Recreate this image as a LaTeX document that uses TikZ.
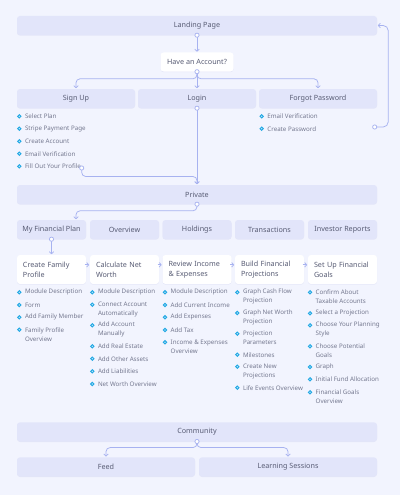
\documentclass[tikz,border=0pt]{standalone}
\usepackage{fontspec}
\setmainfont{Noto Sans}
\usetikzlibrary{arrows.meta,shadows}
\definecolor{bg}{HTML}{F2F4FE}
\definecolor{boxc}{HTML}{E2E5FA}
\definecolor{conncol}{HTML}{A7B2F0}
\definecolor{lab}{HTML}{585C74}
\definecolor{itc}{HTML}{74788F}
\definecolor{bulc}{HTML}{22A8E4}
\newcommand\itm[5]{%
  \node[itemtxt] (#1) at (#2+5.5,#4) {#5};
  \draw[bul] (#2,#3) circle[radius=1.6pt];}
\begin{document}
\begin{tikzpicture}[x=1pt,y=-1pt,
  box/.style={fill=boxc, rounded corners=3pt, inner sep=0pt, minimum height=19pt, text=lab,
    font=\fontsize{7.2}{9}\selectfont,
    drop shadow={shadow xshift=0pt, shadow yshift=-0.7pt, opacity=0.06, fill=blue!60!black}},
  wbox/.style={box, fill=white},
  tab/.style={box, minimum width=69pt},
  hdr/.style={wbox, minimum width=69pt, minimum height=29pt, text width=57pt, inner xsep=6pt,
    align=left, font=\fontsize{7.2}{10}\selectfont},
  itemtxt/.style={inner sep=0pt, anchor=west, align=left, text=itc, font=\fontsize{6.2}{9}\selectfont},
  bul/.style={draw=bulc, line width=1.0pt, fill=white},
  conn/.style={draw=conncol, line width=0.75pt, rounded corners=4pt},
  arr/.style={conn, -{Straight Barb[length=2pt,width=4.5pt]}, shorten >=0.6pt},
  dot/.style={circle, draw=conncol, line width=0.75pt, fill=white, inner sep=0pt, minimum size=4.2pt}
]
\fill[bg] (0,0) rectangle (400,495);
\useasboundingbox (0,0) rectangle (400,495);

% top part
\node[box, minimum width=360pt] (landing) at (197,25.5) {Landing Page};
\node[wbox, minimum width=73pt] (have) at (197,62) {Have an Account?};
\node[box, minimum width=118pt] (signup) at (76,98.5) {Sign Up};
\node[box, minimum width=118pt] (login) at (197,98.5) {Login};
\node[box, minimum width=118pt] (forgot) at (318,98.5) {Forgot Password};

\itm{su1}{19.3}{116.3}{116.3}{Select Plan}
\itm{su2}{19.3}{128.7}{128.7}{Stripe Payment Page}
\itm{su3}{19.3}{141.3}{141.3}{Create Account}
\itm{su4}{19.3}{153.7}{153.7}{Email Verification}
\itm{su5}{19.3}{166.3}{166.3}{Fill Out Your Profile}
\itm{fp1}{261.7}{116.3}{116.3}{Email Verification}
\itm{fp2}{261.7}{128.7}{128.7}{Create Password}

\node[box, minimum width=360pt] (private) at (197,194.5) {Private};

\node[tab] (mfp) at (51.5,229.5) {My Financial Plan};
\node[tab] (ovw) at (124.5,229.5) {Overview};
\node[tab] (hold) at (197,229.5) {Holdings};
\node[tab] (trans) at (269.5,229.5) {Transactions};
\node[tab] (inv) at (342.5,229.5) {Investor Reports};

\node[hdr] (h1) at (51.5,269.5) {Create Family\\Profile};
\node[hdr] (h2) at (124.5,269.5) {Calculate Net\\Worth};
\node[hdr] (h3) at (197,269.5) {Review Income\\\& Expenses};
\node[hdr] (h4) at (269.5,269.5) {Build Financial\\Projections};
\node[hdr] (h5) at (342.5,269.5) {Set Up Financial\\Goals};

% column 1
\itm{a1}{19.3}{292.3}{292.3}{Module Description}
\itm{a2}{19.3}{305}{305}{Form}
\itm{a3}{19.3}{317.3}{317.3}{Add Family Member}
\itm{a4}{19.3}{329.7}{334.2}{Family Profile\\Overview}
% column 2
\itm{b1}{92.3}{292.3}{292.3}{Module Description}
\itm{b2}{92.3}{304.7}{309.2}{Connect Account\\Automatically}
\itm{b3}{92.3}{325.3}{329.8}{Add Account\\Manually}
\itm{b4}{92.3}{346.3}{346.3}{Add Real Estate}
\itm{b5}{92.3}{358.7}{358.7}{Add Other Assets}
\itm{b6}{92.3}{371.3}{371.3}{Add Liabilities}
\itm{b7}{92.3}{384}{384}{Net Worth Overview}
% column 3
\itm{c1}{165}{292.3}{292.3}{Module Description}
\itm{c2}{165}{305}{305}{Add Current Income}
\itm{c3}{165}{317.3}{317.3}{Add Expenses}
\itm{c4}{165}{330}{330}{Add Tax}
\itm{c5}{165}{342.3}{346.8}{Income \& Expenses\\Overview}
% column 4
\itm{d1}{237.3}{292.3}{296.8}{Graph Cash Flow\\Projection}
\itm{d2}{237.3}{313}{317.5}{Graph Net Worth\\Projection}
\itm{d3}{237.3}{333.7}{338.2}{Projection\\Parameters}
\itm{d4}{237.3}{354.7}{354.7}{Milestones}
\itm{d5}{237.3}{366.7}{371.2}{Create New\\Projections}
\itm{d6}{237.3}{387.7}{387.7}{Life Events Overview}
% column 5
\itm{e1}{310}{292.3}{296.8}{Confirm About\\Taxable Accounts}
\itm{e2}{310}{313.3}{313.3}{Select a Projection}
\itm{e3}{310}{325.3}{329.8}{Choose Your Planning\\Style}
\itm{e4}{310}{346.3}{350.8}{Choose Potential\\Goals}
\itm{e5}{310}{367}{367}{Graph}
\itm{e6}{310}{379.3}{379.3}{Initial Fund Allocation}
\itm{e7}{310}{392.3}{396.8}{Financial Goals\\Overview}

\node[box, minimum width=360pt] (community) at (197,431.8) {Community};
\node[box, minimum width=178pt] (feed) at (106,466.8) {Feed};
\node[box, minimum width=178pt] (learn) at (288,466.8) {Learning Sessions};

% connectors
\coordinate (pc) at (81.7,168);
\coordinate (cp) at (374.7,127);
\coordinate (mfpt) at ([xshift=24.5pt]mfp.north);

\draw[arr] (landing.south) -- (have.north);
\draw[arr] (have.south) |- ([yshift=10pt]signup.north) -- (signup.north);
\draw[arr] (have.south) -- (login.north);
\draw[arr] (have.south) |- ([yshift=10pt]forgot.north) -- (forgot.north);
\draw[arr] (login.south) -- (private.north);
\draw[arr] (pc) |- ([yshift=8.3pt]private.north) -- (private.north);
\draw[arr, rounded corners=5pt] (cp) -| ([xshift=11pt]landing.east) -- (landing.east);
\draw[arr] (private.south) |- ([yshift=9pt]mfpt) -- (mfpt);
\draw[arr] (mfp.south) -- (h1.north);
\draw[arr, shorten <=-1.5pt] ([yshift=-10pt]h1.north east) -- ([yshift=-10pt]h2.north west);
\draw[arr, shorten <=-1.5pt] ([yshift=-10pt]h2.north east) -- ([yshift=-10pt]h3.north west);
\draw[arr, shorten <=-1.5pt] ([yshift=-10pt]h3.north east) -- ([yshift=-10pt]h4.north west);
\draw[arr, shorten <=-1.5pt] ([yshift=-10pt]h4.north east) -- ([yshift=-10pt]h5.north west);
\draw[arr] (community.south) |- ([yshift=9.5pt]feed.north) -- (feed.north);
\draw[arr] (community.south) |- ([yshift=9.5pt]learn.north) -- (learn.north);

\node[dot] (d1) at (landing.south) {};
\node[dot] (d2) at (have.south) {};
\node[dot] (d3) at (login.south) {};
\node[dot] (d4) at (pc) {};
\node[dot] (d5) at (cp) {};
\node[dot] (d6) at (private.south) {};
\node[dot] (d7) at (mfp.south) {};
\node[dot] (d8) at (community.south) {};
\end{tikzpicture}
\end{document}
